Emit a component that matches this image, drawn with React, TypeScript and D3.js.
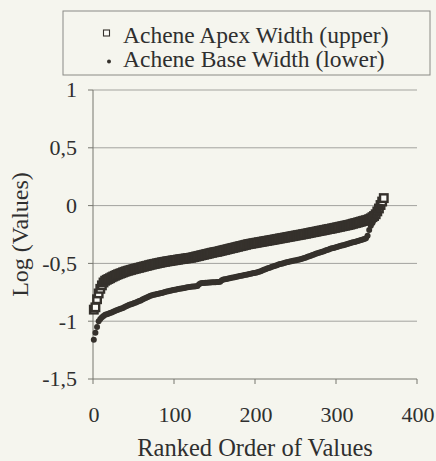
import React from "react";
import * as d3 from "d3";

const xTicks = [0, 100, 200, 300, 400];
const yTicks = [1, 0.5, 0, -0.5, -1, -1.5];
const yTickLabels = ["1", "0,5", "0", "-0,5", "-1", "-1,5"];
const seriesNames = ["Achene Apex Width (upper)", "Achene Base Width (lower)"];
const xTitle = "Ranked Order of Values";
const yTitle = "Log (Values)";
const rankStep = 2; // values listed at ranks 1, 3, 5, ...

// Apex width (upper), log values in ranked order
const apexValues = [
  -0.9, -0.88, -0.81, -0.76, -0.72, -0.69, -0.665, -0.65, -0.642, -0.635,
  -0.628, -0.62, -0.613, -0.607, -0.6, -0.594, -0.589, -0.584, -0.578, -0.573,
  -0.568, -0.564, -0.56, -0.556, -0.552, -0.548, -0.545, -0.541, -0.538, -0.534,
  -0.53, -0.527, -0.523, -0.52, -0.516, -0.512, -0.509, -0.506, -0.503, -0.5,
  -0.497, -0.494, -0.491, -0.488, -0.486, -0.483, -0.481, -0.479, -0.476, -0.474,
  -0.472, -0.47, -0.467, -0.465, -0.463, -0.461, -0.459, -0.457, -0.455, -0.453,
  -0.451, -0.448, -0.445, -0.441, -0.438, -0.435, -0.431, -0.428, -0.425, -0.421,
  -0.418, -0.415, -0.411, -0.408, -0.405, -0.402, -0.4, -0.397, -0.393, -0.39,
  -0.386, -0.383, -0.38, -0.376, -0.373, -0.369, -0.366, -0.363, -0.359, -0.356,
  -0.352, -0.349, -0.346, -0.342, -0.339, -0.335, -0.332, -0.33, -0.327, -0.325,
  -0.322, -0.32, -0.317, -0.315, -0.312, -0.31, -0.307, -0.305, -0.302, -0.3,
  -0.297, -0.295, -0.292, -0.29, -0.287, -0.284, -0.282, -0.279, -0.277, -0.274,
  -0.271, -0.269, -0.266, -0.264, -0.261, -0.258, -0.256, -0.253, -0.251, -0.248,
  -0.245, -0.243, -0.24, -0.237, -0.234, -0.231, -0.229, -0.226, -0.223, -0.22,
  -0.217, -0.215, -0.212, -0.209, -0.206, -0.203, -0.201, -0.198, -0.195, -0.192,
  -0.189, -0.186, -0.183, -0.18, -0.177, -0.174, -0.171, -0.168, -0.165, -0.161,
  -0.157, -0.153, -0.15, -0.146, -0.142, -0.138, -0.134, -0.13, -0.127, -0.123,
  -0.117, -0.11, -0.1, -0.09, -0.075, -0.05, -0.025, 0.005, 0.035, 0.065,
];

// Base width (lower), log values in ranked order
const baseValues = [
  -1.16, -1.1, -1.05, -1.0, -0.98, -0.965, -0.955, -0.945, -0.94, -0.935,
  -0.93, -0.925, -0.918, -0.912, -0.905, -0.9, -0.895, -0.89, -0.885, -0.878,
  -0.87, -0.865, -0.858, -0.853, -0.848, -0.843, -0.838, -0.832, -0.826, -0.82,
  -0.813, -0.806, -0.8, -0.793, -0.786, -0.78, -0.775, -0.772, -0.768, -0.765,
  -0.762, -0.758, -0.755, -0.752, -0.748, -0.744, -0.74, -0.737, -0.734, -0.73,
  -0.728, -0.725, -0.722, -0.72, -0.717, -0.714, -0.712, -0.709, -0.706, -0.704,
  -0.702, -0.7, -0.699, -0.698, -0.696, -0.68, -0.672, -0.67, -0.669, -0.668,
  -0.667, -0.666, -0.665, -0.664, -0.663, -0.662, -0.661, -0.66, -0.658, -0.645,
  -0.64, -0.637, -0.634, -0.631, -0.628, -0.625, -0.622, -0.619, -0.616, -0.613,
  -0.61, -0.607, -0.604, -0.601, -0.598, -0.595, -0.592, -0.589, -0.586, -0.583,
  -0.58, -0.576, -0.572, -0.567, -0.561, -0.555, -0.55, -0.545, -0.54, -0.535,
  -0.53, -0.525, -0.52, -0.515, -0.51, -0.506, -0.502, -0.498, -0.494, -0.49,
  -0.487, -0.484, -0.481, -0.478, -0.475, -0.472, -0.469, -0.466, -0.463, -0.458,
  -0.453, -0.448, -0.443, -0.438, -0.433, -0.428, -0.423, -0.417, -0.412, -0.408,
  -0.403, -0.399, -0.394, -0.389, -0.384, -0.379, -0.374, -0.37, -0.366, -0.362,
  -0.358, -0.354, -0.35, -0.346, -0.342, -0.338, -0.334, -0.33, -0.326, -0.322,
  -0.318, -0.314, -0.31, -0.306, -0.302, -0.298, -0.294, -0.29, -0.283, -0.26,
  -0.21, -0.175, -0.15, -0.12, -0.09, -0.06, -0.035, -0.01,
];

const FONT = "'Liberation Serif', 'Times New Roman', serif";
const INK = "#35312c";
const TEXT = "#2f2f2f";
const BG = "#f5f5ee";

export default function App() {
  const W = 436;
  const H = 461;
  const x = d3.scaleLinear().domain([0, 400]).range([93, 417]);
  const y = d3.scaleLinear().domain([-1.5, 1]).range([379, 90]);
  const sq = 7.5;
  const ts = { fontFamily: FONT };

  const apexPts = apexValues.map((v, i) => ({ r: 1 + i * rankStep, v }));
  const basePts = baseValues.map((v, i) => ({ r: 1 + i * rankStep, v }));

  return (
    <svg
      width={W}
      height={H}
      style={{ position: "absolute", left: 0, top: 0, display: "block" }}
    >
      <rect x={0} y={0} width={W} height={H} fill={BG} />

      {/* gridlines */}
      {yTicks.slice(0, -1).map((t) => (
        <line
          key={"g" + t}
          x1={x(0)}
          x2={x(400)}
          y1={y(t)}
          y2={y(t)}
          stroke="#a3a39e"
          strokeWidth={1}
        />
      ))}

      {/* axes */}
      <line x1={x(0)} x2={x(0)} y1={y(1)} y2={y(-1.5)} stroke="#77776f" strokeWidth={1} />
      <line x1={x(0)} x2={x(400)} y1={y(-1.5)} y2={y(-1.5)} stroke="#77776f" strokeWidth={1} />
      {yTicks.map((t, i) => (
        <g key={"yt" + t}>
          <line x1={x(0) - 5} x2={x(0)} y1={y(t)} y2={y(t)} stroke="#77776f" />
          <text
            x={77}
            y={y(t)}
            dy="0.34em"
            textAnchor="end"
            fontSize={22}
            fill={TEXT}
            style={ts}
          >
            {yTickLabels[i]}
          </text>
        </g>
      ))}
      {xTicks.map((t) => (
        <g key={"xt" + t}>
          <line x1={x(t)} x2={x(t)} y1={y(-1.5)} y2={y(-1.5) + 5} stroke="#77776f" />
          <text x={x(t) + 1} y={421.5} textAnchor="middle" fontSize={22} fill={TEXT} style={ts}>
            {t}
          </text>
        </g>
      ))}

      {/* axis titles */}
      <text x={x(200)} y={456} textAnchor="middle" fontSize={24.5} fill={TEXT} style={ts}>
        {xTitle}
      </text>
      <text
        transform={`translate(28,${(y(1) + y(-1.5)) / 2}) rotate(-90)`}
        textAnchor="middle"
        fontSize={24}
        fill={TEXT}
        style={ts}
      >
        {yTitle}
      </text>

      {/* apex series: open squares */}
      {apexPts.map((p, i) => (
        <rect
          key={"a" + i}
          x={x(p.r) - sq / 2}
          y={y(p.v) - sq / 2}
          width={sq}
          height={sq}
          fill="#fbfbf7"
          stroke={INK}
          strokeWidth={2.4}
        />
      ))}

      {/* base series: small dots */}
      {basePts.map((p, i) => (
        <circle key={"b" + i} cx={x(p.r)} cy={y(p.v)} r={3} fill={INK} />
      ))}

      {/* legend */}
      <rect x={63} y={11} width={367} height={64} fill={BG} stroke="#8a8a85" strokeWidth={1} />
      <rect x={103.5} y={30} width={6} height={6} fill="#fbfbf7" stroke={INK} strokeWidth={1.1} />
      <text x={123} y={42.5} fontSize={23.5} fill={TEXT} style={ts}>
        {seriesNames[0]}
      </text>
      <circle cx={109} cy={61.5} r={2} fill={INK} />
      <text x={123} y={67} fontSize={23.5} fill={TEXT} style={ts}>
        {seriesNames[1]}
      </text>
    </svg>
  );
}
